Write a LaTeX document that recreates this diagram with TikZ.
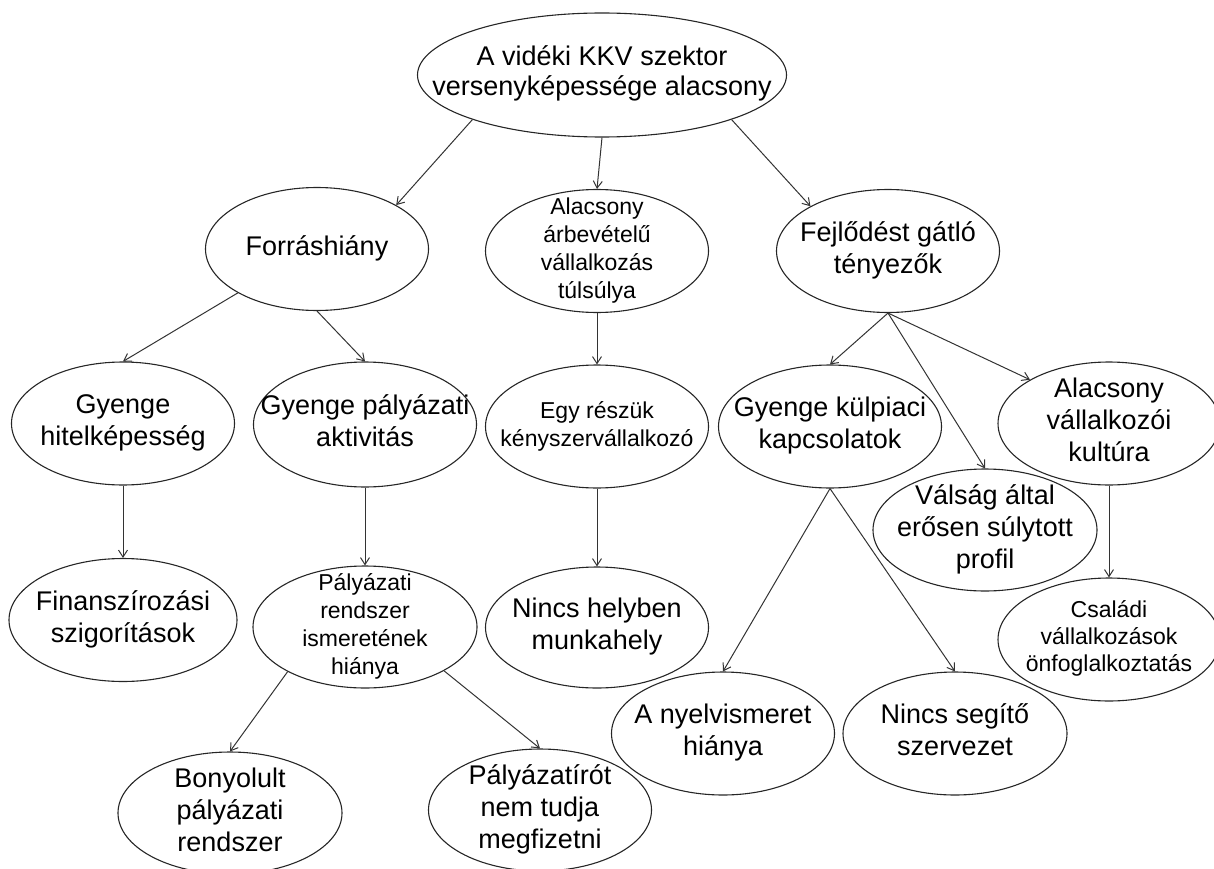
\documentclass[tikz,border=0pt]{standalone}
\usepackage{fontspec}
\setmainfont{Liberation Sans}
\usepackage{tikz}
\usetikzlibrary{shapes.geometric, arrows.meta}

% text of an oval, centred, not widening the oval
\newcommand{\ovaltext}[1]{\hbox to 0pt{\hss\vbox to 0pt{\vss\hbox{\begin{tabular}{@{}c@{}}#1\end{tabular}}\vss}\hss}}

\begin{document}
\begin{tikzpicture}[x=1pt, y=-1pt,
  oval/.style={draw=black!85, line width=1.1pt, ellipse, inner sep=0pt,
    minimum width=223pt, minimum height=123pt, font=\fontsize{27}{32}\selectfont},
  small/.style={font=\fontsize{23}{28}\selectfont},
  link/.style={-{Straight Barb[length=7pt,width=9pt]}, draw=black!80, line width=1pt}]
  \useasboundingbox (0,0) rectangle (1214,869);

  % Main problem
  \node[oval, minimum width=369pt, minimum height=124pt, font=\fontsize{27}{30}\selectfont]
    (top) at (602,75) {\ovaltext{A vidéki KKV szektor\\versenyképessége alacsony}};

  % First level causes
  \node[oval] (forras) at (317,249) {\ovaltext{Forráshiány}};
  \node[oval, small] (arbevetel) at (597,251) {\ovaltext{Alacsony\\árbevételű\\vállalkozás\\túlsúlya}};
  \node[oval] (fejlodes) at (888,251) {\ovaltext{Fejlődést gátló\\tényezők}};

  % Second level
  \node[oval] (hitel) at (123,423.5) {\ovaltext{Gyenge\\hitelképesség}};
  \node[oval, minimum height=125pt] (aktivitas) at (365,424.5) {\ovaltext{Gyenge pályázati\\aktivitás}};
  \node[oval, small] (egyreszuk) at (597,426.5) {\ovaltext{Egy részük\\kényszervállalkozó}};
  \node[oval] (kulpiaci) at (830,426.5) {\ovaltext{Gyenge külpiaci\\kapcsolatok}};
  \node[oval, minimum width=222pt] (vallkult) at (1109,423.5) {\ovaltext{Alacsony\\vállalkozói\\kultúra}};
  \node[oval, minimum width=224pt, minimum height=122pt] (valsag) at (985,530) {\ovaltext{Válság által\\erősen súlytott\\profil}};

  % Third level
  \node[oval, minimum width=228pt] (finansz) at (123,620) {\ovaltext{Finanszírozási\\szigorítások}};
  \node[oval, small, minimum width=224pt, minimum height=122pt] (palyrendszer) at (365,627) {\ovaltext{Pályázati\\rendszer\\ismeretének\\hiánya}};
  \node[oval, minimum height=121pt] (nincshelyben) at (597,627.5) {\ovaltext{Nincs helyben\\munkahely}};
  \node[oval, minimum width=222pt, font=\fontsize{23}{27}\selectfont] (csaladi) at (1109,639.5) {\ovaltext{Családi\\vállalkozások\\önfoglalkoztatás}};

  % Bottom level
  \node[oval] (nyelv) at (723,733.5) {\ovaltext{A nyelvismeret\\hiánya}};
  \node[oval, minimum width=224pt] (segito) at (955,733.5) {\ovaltext{Nincs segítő\\szervezet}};
  \node[oval, minimum width=224pt, minimum height=122pt] (bonyolult) at (230,813) {\ovaltext{Bonyolult\\pályázati\\rendszer}};
  \node[oval, minimum height=122pt] (palyairot) at (540,810) {\ovaltext{Pályázatírót\\nem tudja\\megfizetni}};

  % Arrows from the main problem
  \draw[link] (top.199) -- (forras.29);
  \draw[link] (top.south) -- (arbevetel.north);
  \draw[link] (top.341) -- (fejlodes.150);

  % Arrows below Forráshiány
  \draw[link] (forras.209) -- (hitel.north);
  \draw[link] (forras.south) -- (aktivitas.north);
  \draw[link] (hitel.south) -- (finansz.north);
  \draw[link] (aktivitas.south) -- (palyrendszer.north);
  \draw[link] (palyrendszer.210) -- (bonyolult.north);
  \draw[link] (palyrendszer.331) -- (palyairot.north);

  % Middle column
  \draw[link] (arbevetel.south) -- (egyreszuk.north);
  \draw[link] (egyreszuk.south) -- (nincshelyben.north);

  % Arrows below Fejlődést gátló tényezők
  \draw[link] (fejlodes.south) -- (kulpiaci.north);
  \draw[link] (fejlodes.south) -- (valsag.north);
  \draw[link] (fejlodes.south) -- (vallkult.151);
  \draw[link] (vallkult.south) -- (csaladi.north);
  \draw[link] (kulpiaci.south) -- (nyelv.north);
  \draw[link] (kulpiaci.south) -- (segito.north);
\end{tikzpicture}
\end{document}
